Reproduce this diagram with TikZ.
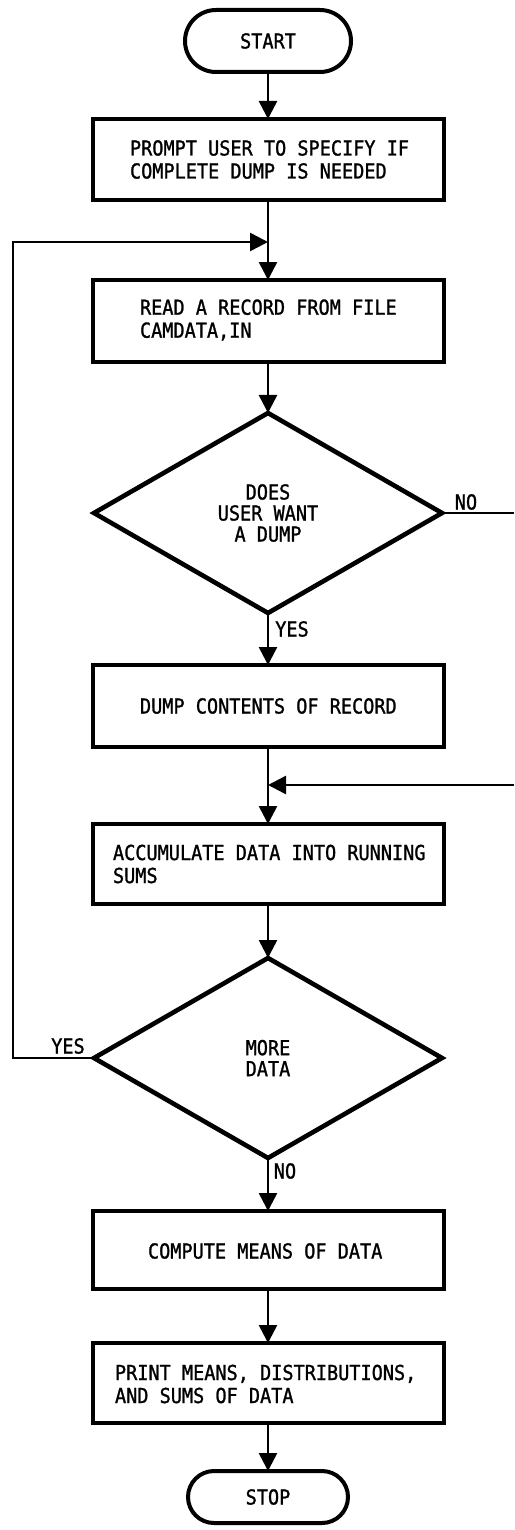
\documentclass[tikz,border=0pt]{standalone}
\usepackage{fontspec}
\usetikzlibrary{shapes.geometric,shapes.misc,arrows.meta}
\newfontfamily\flowfont[FakeStretch=0.9,FakeBold=1.2]{DejaVu Sans Mono}
\newcommand\flowtxt{\flowfont\fontsize{10.3}{11.5}\selectfont}
\tikzset{
  x=0.5pt, y=-0.5pt,
  every node/.style={font=\flowtxt, inner sep=0pt, outer sep=0pt},
  boxnode/.style={draw, line width=2pt, rectangle, minimum width=175.5pt},
  termnode/.style={draw, line width=2pt, rounded rectangle},
  decnode/.style={draw, line width=2.3pt, diamond, align=center, minimum width=174pt, minimum height=100pt, font=\flowfont\fontsize{10.3}{10.5}\selectfont},
  txtnode/.style={anchor=west, align=left},
  conn/.style={line width=1.3pt},
  arr/.style={conn, -{Triangle[length=9pt,width=9pt]}},
}
\begin{document}
\begin{tikzpicture}
\useasboundingbox (0,0) rectangle (514,1530);
% nodes
\node[termnode, minimum width=83pt, minimum height=31pt] (start) at (268,41) {START};
\node[boxnode, minimum height=40.5pt] (prompt) at (268,159.5) {};
\node[txtnode] (promptT) at (130,159.5) {PROMPT USER TO SPECIFY IF\\COMPLETE DUMP IS NEEDED};
\node[boxnode, minimum height=41pt] (read) at (268,321) {};
\node[txtnode] (readT) at (140,320) {READ A RECORD FROM FILE\\CAMDATA,IN};
\node[decnode] (d1) at (268,513) {DOES\\USER WANT\\A DUMP};
\node[boxnode, minimum height=41pt] (dump) at (268,706) {};
\node[txtnode] (dumpT) at (140,706) {DUMP CONTENTS OF RECORD};
\node[boxnode, minimum height=40pt] (accum) at (268,864) {};
\node[txtnode] (accumT) at (113,864) {ACCUMULATE DATA INTO RUNNING\\SUMS};
\node[decnode] (d2) at (268,1058) {MORE\\DATA};
\node[boxnode, minimum height=39pt] (compute) at (268,1250) {};
\node[txtnode] (computeT) at (148,1251) {COMPUTE MEANS OF DATA};
\node[boxnode, minimum height=40pt] (print) at (268,1383) {};
\node[txtnode] (printT) at (115,1384) {PRINT MEANS, DISTRIBUTIONS,\\AND SUMS OF DATA};
\node[termnode, minimum width=80pt, minimum height=26pt] (stop) at (268,1497) {STOP};
% labels
\node (yes1) at (292,629) {YES};
\node (no1) at (466,502) {NO};
\node (yes2) at (68,1046) {YES};
\node (no2) at (285,1171) {NO};
% coordinates
\coordinate (j1) at (268,242);
\coordinate (lpt) at (13,242);
\coordinate (lpb) at (13,1058);
\coordinate (noR) at (514,513);
\coordinate (retR) at (514,785);
\coordinate (j2) at (268,785);
% connectors
\draw[arr] (start) -- (prompt);
\draw[arr] (prompt) -- (read);
\draw[arr] (d2.west) -- (lpb) -- (lpt) -- (j1);
\draw[arr] (read) -- (d1);
\draw[conn] (d1.east) -- (noR);
\draw[arr] (d1) -- (dump);
\draw[arr] (retR) -- (j2);
\draw[arr] (dump) -- (accum);
\draw[arr] (accum) -- (d2);
\draw[arr] (d2) -- (compute);
\draw[arr] (compute) -- (print);
\draw[arr] (print) -- (stop);
\end{tikzpicture}
\end{document}
